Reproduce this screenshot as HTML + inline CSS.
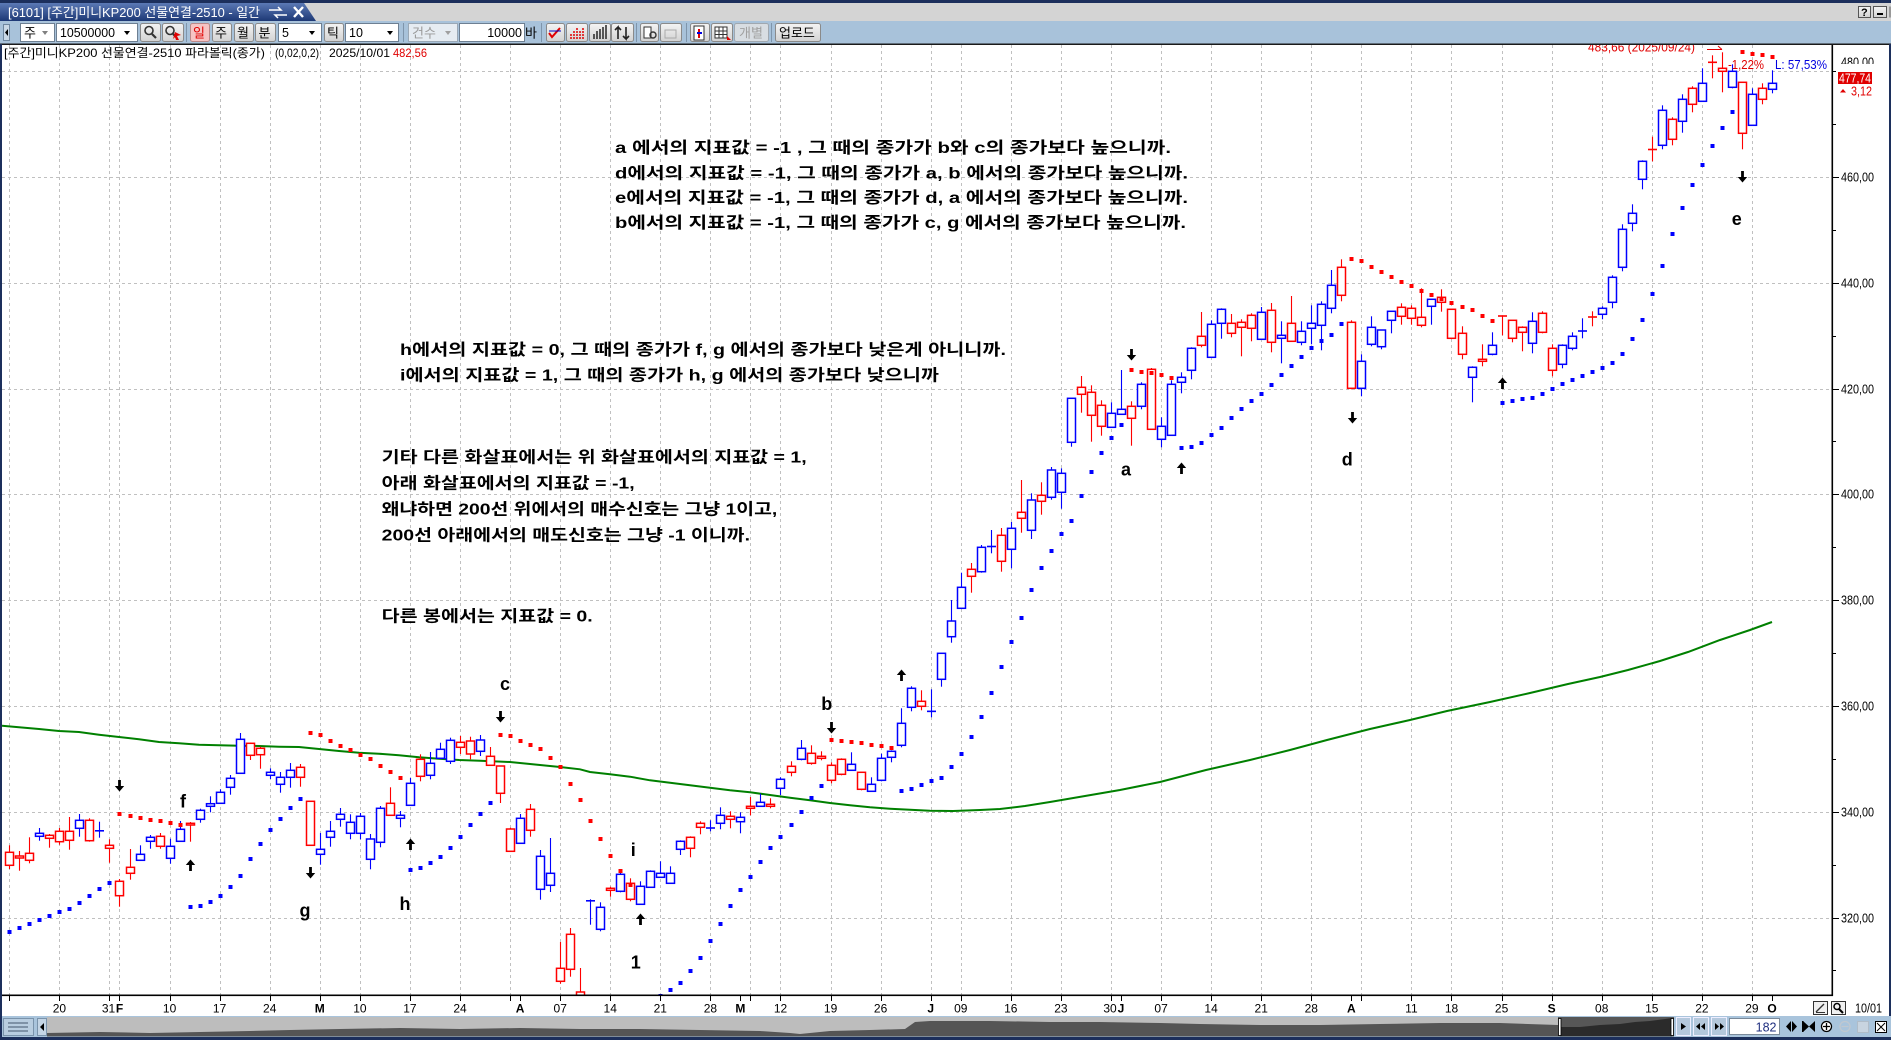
<!DOCTYPE html>
<html><head><meta charset="utf-8"><title>chart</title>
<style>
html,body{margin:0;padding:0;background:#fff;overflow:hidden;width:1891px;height:1040px}
svg{display:block}
text{font-family:"Liberation Sans","Noto Sans CJK KR",sans-serif}
.gd{stroke:#c0c0c0;stroke-width:1;stroke-dasharray:3 3;fill:none}
.ax{font-size:13px;fill:#000}
.dt{font-size:12px;fill:#000}
.mb{font-size:12px;fill:#000;font-weight:bold}
.lt{font-size:18px;font-weight:bold;fill:#000}
.pp{font-size:16px;font-weight:bold;fill:#000}
</style></head><body>
<svg id="svg" width="1891" height="1040" viewBox="0 0 1891 1040" xmlns="http://www.w3.org/2000/svg">
<defs>
<clipPath id="pc"><rect x="2" y="45" width="1830" height="950"/></clipPath>
<path id="ad" d="M-1.4,-6h2.8v6h3.3l-4.7,5.5l-4.7,-5.5h3.3z"/>
<path id="au" d="M-1.4,6h2.8v-6h3.3l-4.7,-5.5l-4.7,5.5h3.3z"/>
<linearGradient id="tabg" x1="0" y1="0" x2="0" y2="1"><stop offset="0" stop-color="#5b79b5"/><stop offset="1" stop-color="#1d3875"/></linearGradient>
<linearGradient id="btng" x1="0" y1="0" x2="0" y2="1"><stop offset="0" stop-color="#f4f4f4"/><stop offset="1" stop-color="#d2d2d2"/></linearGradient>
</defs>
<rect width="1891" height="1040" fill="#fff"/>

<g clip-path="url(#pc)">
 <g id="grid"></g>
 <polyline fill="none" stroke="#008000" stroke-width="2" points="2,725.7 19,727.3 39,729 59,731 79,732 99,734.7 119,737 139,739.3 159,742 179,743.3 199,744.7 219,745.3 239,745.7 259,746 279,746.7 299,747 319,749 339,751 359,752.7 379,753.7 399,755.3 419,757.3 439,758.7 459,760 480,760.7 510,762 530,764 550,766 560,767 580,769.3 590,772 610,774.3 630,776.7 650,780.3 670,782.7 690,785.3 710,787.7 730,790.3 750,792.3 770,795 790,797.7 810,800.3 830,803 850,805.3 870,807.3 890,808.7 910,809.7 930,810.7 953,811 980,810 1000,809 1025,806 1050,802 1085,796 1120,790 1160,782 1206,770 1250,760 1290,750 1327,740 1370,729 1410,720 1447,711 1490,702 1530,693 1568,684 1600,677 1628,670 1660,661 1688,652 1720,640 1750,630 1772,622"/>
 <g id="cnd"></g>
 <g id="sar"></g>
</g>

<!-- top-right chart annotations (upper part covered by toolbar) -->
<text x="1588" y="51.5" font-size="13" fill="#e00000" textLength="107" lengthAdjust="spacingAndGlyphs">483,66 (2025/09/24)</text>
<line x1="1707" y1="49.5" x2="1722" y2="49.5" stroke="#e00000" stroke-width="1"/>
<line x1="1718" y1="46" x2="1722" y2="49.5" stroke="#e00000" stroke-width="1"/>
<text x="1728" y="69" font-size="13" fill="#e00000" textLength="36" lengthAdjust="spacingAndGlyphs">-1,22%</text>
<text x="1775" y="69" font-size="13" fill="#0000e0" textLength="52" lengthAdjust="spacingAndGlyphs">L: 57,53%</text>

<!-- arrows -->
<g fill="#000">
<use href="#ad" x="119.5" y="786"/><use href="#ad" x="310.5" y="873"/><use href="#ad" x="500.5" y="717"/><use href="#ad" x="831.5" y="728"/><use href="#ad" x="1131.5" y="355"/><use href="#ad" x="1352.5" y="418"/><use href="#ad" x="1742.5" y="177"/>
<use href="#au" x="190.5" y="865"/><use href="#au" x="410.5" y="844"/><use href="#au" x="640.5" y="919"/><use href="#au" x="901.5" y="675"/><use href="#au" x="1181.5" y="468"/><use href="#au" x="1502.5" y="383"/>
</g>

<!-- letters -->
<g class="lt" text-anchor="middle">
<text x="183" y="807.7">f</text>
<text x="305" y="916.7">g</text>
<text x="405" y="910">h</text>
<text x="505" y="690">c</text>
<text x="826.7" y="710">b</text>
<text x="633.3" y="856">i</text>
<text x="635.7" y="968.3">1</text>
<text x="1126" y="475.7">a</text>
<text x="1347.3" y="465.7">d</text>
<text x="1736.7" y="225">e</text>
</g>

<!-- paragraphs -->
<g class="pp">
<text x="615" y="153" textLength="556" lengthAdjust="spacingAndGlyphs">a 에서의 지표값 = -1 , 그 때의 종가가 b와 c의 종가보다 높으니까.</text>
<text x="615" y="178.5" textLength="573" lengthAdjust="spacingAndGlyphs">d에서의 지표값 = -1, 그 때의 종가가 a, b 에서의 종가보다 높으니까.</text>
<text x="615" y="203" textLength="573" lengthAdjust="spacingAndGlyphs">e에서의 지표값 = -1, 그 때의 종가가 d, a 에서의 종가보다 높으니까.</text>
<text x="615" y="228" textLength="571" lengthAdjust="spacingAndGlyphs">b에서의 지표값 = -1, 그 때의 종가가 c, g 에서의 종가보다 높으니까.</text>

<text x="400" y="355" textLength="606" lengthAdjust="spacingAndGlyphs">h에서의 지표값 = 0, 그 때의 종가가 f, g 에서의 종가보다 낮은게 아니니까.</text>
<text x="400" y="380.5" textLength="539" lengthAdjust="spacingAndGlyphs">i에서의 지표값 = 1, 그 때의 종가가 h, g 에서의 종가보다 낮으니까</text>

<text x="381.7" y="462.7" textLength="425" lengthAdjust="spacingAndGlyphs">기타 다른 화살표에서는 위 화살표에서의 지표값 = 1,</text>
<text x="381.7" y="488.7" textLength="253" lengthAdjust="spacingAndGlyphs">아래 화살표에서의 지표값 = -1,</text>
<text x="381.7" y="514.7" textLength="395.6" lengthAdjust="spacingAndGlyphs">왜냐하면 200선 위에서의 매수신호는 그냥 1이고,</text>
<text x="381.7" y="540.7" textLength="368.3" lengthAdjust="spacingAndGlyphs">200선 아래에서의 매도신호는 그냥 -1 이니까.</text>

<text x="381.7" y="621.5" textLength="211" lengthAdjust="spacingAndGlyphs">다른 봉에서는 지표값 = 0.</text>
</g>

<!-- axes -->
<rect x="1831.5" y="44" width="1.6" height="952" fill="#000"/>
<rect x="0" y="994.5" width="1833" height="1.6" fill="#000"/>
<g stroke="#000" stroke-width="1">
<line x1="1832" y1="71.5" x2="1839" y2="71.5"/><line x1="1832" y1="177.5" x2="1839" y2="177.5"/><line x1="1832" y1="283.5" x2="1839" y2="283.5"/><line x1="1832" y1="389.5" x2="1839" y2="389.5"/><line x1="1832" y1="494.5" x2="1839" y2="494.5"/><line x1="1832" y1="600.5" x2="1839" y2="600.5"/><line x1="1832" y1="706.5" x2="1839" y2="706.5"/><line x1="1832" y1="812.5" x2="1839" y2="812.5"/><line x1="1832" y1="918.5" x2="1839" y2="918.5"/>
<line x1="1832" y1="124.5" x2="1836" y2="124.5"/><line x1="1832" y1="230.5" x2="1836" y2="230.5"/><line x1="1832" y1="336.5" x2="1836" y2="336.5"/><line x1="1832" y1="441.5" x2="1836" y2="441.5"/><line x1="1832" y1="547.5" x2="1836" y2="547.5"/><line x1="1832" y1="653.5" x2="1836" y2="653.5"/><line x1="1832" y1="759.5" x2="1836" y2="759.5"/><line x1="1832" y1="865.5" x2="1836" y2="865.5"/><line x1="1832" y1="970.5" x2="1836" y2="970.5"/>
</g>
<g id="xt"></g>
<g class="ax">
<text x="1841" y="66.5" textLength="33" lengthAdjust="spacingAndGlyphs">480,00</text>
</g>
<rect x="1836" y="64" width="50" height="8" fill="#fff"/>
<g class="ax">
<text x="1841" y="181.3" textLength="33" lengthAdjust="spacingAndGlyphs">460,00</text>
<text x="1841" y="287.3" textLength="33" lengthAdjust="spacingAndGlyphs">440,00</text>
<text x="1841" y="393.3" textLength="33" lengthAdjust="spacingAndGlyphs">420,00</text>
<text x="1841" y="498.7" textLength="33" lengthAdjust="spacingAndGlyphs">400,00</text>
<text x="1841" y="604.5" textLength="33" lengthAdjust="spacingAndGlyphs">380,00</text>
<text x="1841" y="710.5" textLength="33" lengthAdjust="spacingAndGlyphs">360,00</text>
<text x="1841" y="816.5" textLength="33" lengthAdjust="spacingAndGlyphs">340,00</text>
<text x="1841" y="922.5" textLength="33" lengthAdjust="spacingAndGlyphs">320,00</text>
</g>
<rect x="1838" y="72" width="34" height="12" fill="#e00000"/>
<text x="1839" y="82.5" font-size="12.5" fill="#fff" textLength="32" lengthAdjust="spacingAndGlyphs">477,74</text>
<polygon points="1840,92.5 1846,92.5 1843,89" fill="#e00000"/>
<text x="1851" y="95.3" font-size="13" fill="#e00000" textLength="21" lengthAdjust="spacingAndGlyphs">3,12</text>

<!-- date labels -->
<g class="dt" text-anchor="middle">
<text x="59.4" y="1012.5">20</text>
<text x="108.5" y="1012.5">31</text>
<text x="169.6" y="1012.5">10</text>
<text x="219.6" y="1012.5">17</text>
<text x="269.7" y="1012.5">24</text>
<text x="359.9" y="1012.5">10</text>
<text x="409.9" y="1012.5">17</text>
<text x="460" y="1012.5">24</text>
<text x="560.2" y="1012.5">07</text>
<text x="610.2" y="1012.5">14</text>
<text x="660.3" y="1012.5">21</text>
<text x="710.4" y="1012.5">28</text>
<text x="780.5" y="1012.5">12</text>
<text x="830.6" y="1012.5">19</text>
<text x="880.6" y="1012.5">26</text>
<text x="960.8" y="1012.5">09</text>
<text x="1010.8" y="1012.5">16</text>
<text x="1060.9" y="1012.5">23</text>
<text x="1110" y="1012.5">30</text>
<text x="1161.1" y="1012.5">07</text>
<text x="1211.1" y="1012.5">14</text>
<text x="1261.2" y="1012.5">21</text>
<text x="1311.3" y="1012.5">28</text>
<text x="1411.4" y="1012.5">11</text>
<text x="1451.5" y="1012.5">18</text>
<text x="1501.6" y="1012.5">25</text>
<text x="1601.7" y="1012.5">08</text>
<text x="1651.8" y="1012.5">15</text>
<text x="1701.9" y="1012.5">22</text>
<text x="1751.9" y="1012.5">29</text>
</g>
<g class="mb" text-anchor="middle">
<text x="119.5" y="1012.5">F</text>
<text x="319.8" y="1012.5">M</text>
<text x="520.1" y="1012.5">A</text>
<text x="740.4" y="1012.5">M</text>
<text x="930.7" y="1012.5">J</text>
<text x="1121" y="1012.5">J</text>
<text x="1351.3" y="1012.5">A</text>
<text x="1551.6" y="1012.5">S</text>
<text x="1772" y="1012.5">O</text>
</g>
<!-- bottom-right small buttons -->
<rect x="1813.5" y="1001.5" width="14" height="13" fill="#f0f0f0" stroke="#333"/>
<line x1="1816" y1="1012" x2="1824" y2="1004" stroke="#333" stroke-width="1.3"/>
<line x1="1816" y1="1012.5" x2="1825" y2="1012.5" stroke="#333"/>
<rect x="1831.5" y="1001.5" width="14" height="13" fill="#f0f0f0" stroke="#333"/>
<circle cx="1837" cy="1006.5" r="3" fill="none" stroke="#000" stroke-width="1.5"/>
<line x1="1839" y1="1009" x2="1843" y2="1013" stroke="#000" stroke-width="2"/>
<text x="1855" y="1012.5" font-size="12.5" fill="#000" textLength="27" lengthAdjust="spacingAndGlyphs">10/01</text>

<!-- info line -->
<text x="4" y="57" font-size="12" fill="#000" textLength="261" lengthAdjust="spacingAndGlyphs">[주간]미니KP200 선물연결-2510 파라볼릭(종가)</text>
<text x="275" y="57" font-size="12" fill="#000" textLength="44" lengthAdjust="spacingAndGlyphs">(0,02,0,2)</text>
<text x="329" y="57" font-size="12" fill="#000" textLength="61" lengthAdjust="spacingAndGlyphs">2025/10/01</text>
<text x="393" y="57" font-size="12" fill="#e00000" textLength="34" lengthAdjust="spacingAndGlyphs">482,56</text>

<!-- window header -->
<rect x="0" y="0" width="1891" height="21" fill="#d4d4d4"/>
<rect x="0" y="0" width="1891" height="3" fill="#1c2f5c"/>
<polygon points="0,3 304,3 316,21 0,21" fill="url(#tabg)"/>
<text x="8" y="17" font-size="13" fill="#fff" textLength="252" lengthAdjust="spacingAndGlyphs">[6101] [주간]미니KP200 선물연결-2510 - 일간</text>
<path d="M269,10 h12 l-3,-3 M287,15 h-12 l3,3" stroke="#fff" stroke-width="1.5" fill="none"/>
<path d="M294,7 l9,10 M303,7 l-9,10" stroke="#fff" stroke-width="2.4"/>
<rect x="1858.5" y="6.5" width="12" height="11" fill="url(#btng)" stroke="#555"/>
<text x="1861" y="16" font-size="11" font-weight="bold" fill="#000">?</text>
<rect x="1873.5" y="6.5" width="13" height="11" fill="url(#btng)" stroke="#555"/>
<rect x="1877" y="13" width="6" height="2" fill="#000"/>
<rect x="1889" y="6.5" width="2" height="11" fill="#999"/>

<!-- toolbar -->
<rect x="0" y="21" width="1891" height="23" fill="#a8c2da"/>
<rect x="0" y="43.5" width="1891" height="1.5" fill="#1a1a1a"/>
<rect x="3.5" y="24.5" width="6" height="16" fill="#c9d8e6" stroke="#6f879f"/>
<polygon points="8,29 5,32.5 8,36" fill="#000"/>
<rect x="20.5" y="23.5" width="34" height="18" fill="#fff" stroke="#6d7f92"/>
<text x="24" y="37.5" font-size="13" fill="#000">주</text>
<polygon points="42,31 48,31 45,35" fill="#808080"/>
<rect x="56.5" y="23.5" width="81" height="18" fill="#fff" stroke="#6d7f92"/>
<text x="60" y="37" font-size="12.5" fill="#000" textLength="55" lengthAdjust="spacingAndGlyphs">10500000</text>
<polygon points="124,31 130,31 127,35" fill="#000"/>
<rect x="140.5" y="23.5" width="20" height="18" rx="2" fill="url(#btng)" stroke="#8a8a8a"/>
<circle cx="149" cy="30.5" r="4" fill="none" stroke="#333" stroke-width="1.6"/>
<line x1="152" y1="34" x2="156" y2="38" stroke="#333" stroke-width="2.2"/>
<rect x="162.5" y="23.5" width="21" height="18" rx="2" fill="url(#btng)" stroke="#8a8a8a"/>
<circle cx="170" cy="30.5" r="4" fill="none" stroke="#333" stroke-width="1.6"/>
<line x1="173" y1="34" x2="176" y2="37" stroke="#333" stroke-width="2"/>
<polygon points="175,32 181,35 177,36 179,40 176,40 175,37 173,39" fill="#e00000"/>
<line x1="186.5" y1="23" x2="186.5" y2="42" stroke="#7f95ab"/>
<rect x="190.5" y="23.5" width="19" height="18" rx="2" fill="#f6c4c4" stroke="#b88"/>
<text x="193" y="37.5" font-size="13" fill="#e00000">일</text>
<rect x="212.5" y="23.5" width="19" height="18" rx="2" fill="url(#btng)" stroke="#8a8a8a"/>
<text x="215" y="37.5" font-size="13" fill="#000">주</text>
<rect x="234.5" y="23.5" width="19" height="18" rx="2" fill="url(#btng)" stroke="#8a8a8a"/>
<text x="237" y="37.5" font-size="13" fill="#000">월</text>
<rect x="255.5" y="23.5" width="20" height="18" rx="2" fill="url(#btng)" stroke="#8a8a8a"/>
<text x="258.5" y="37.5" font-size="13" fill="#000">분</text>
<rect x="278.5" y="23.5" width="43" height="18" fill="#fff" stroke="#6d7f92"/>
<text x="282" y="37" font-size="12.5" fill="#000">5</text>
<polygon points="309,31 315,31 312,35" fill="#000"/>
<rect x="324.5" y="23.5" width="19" height="18" rx="2" fill="url(#btng)" stroke="#8a8a8a"/>
<text x="327" y="37.5" font-size="13" fill="#000">틱</text>
<rect x="345.5" y="23.5" width="53" height="18" fill="#fff" stroke="#6d7f92"/>
<text x="349" y="37" font-size="12.5" fill="#000">10</text>
<polygon points="387,31 393,31 390,35" fill="#000"/>
<line x1="403.5" y1="23" x2="403.5" y2="42" stroke="#7f95ab"/>
<rect x="408.5" y="23.5" width="49" height="18" fill="#e6ecf2" stroke="#9aa8b6"/>
<text x="412" y="37.5" font-size="13" fill="#9a9a9a">건수</text>
<polygon points="445,31 451,31 448,35" fill="#a0a0a0"/>
<rect x="459.5" y="23.5" width="65" height="18" fill="#fff" stroke="#6d7f92"/>
<text x="522" y="37" font-size="12.5" fill="#000" text-anchor="end">10000</text>
<text x="525" y="37.5" font-size="13" fill="#000">바</text>
<line x1="541.5" y1="23" x2="541.5" y2="42" stroke="#7f95ab"/>
<rect x="546.5" y="23.5" width="18" height="18" rx="2" fill="url(#btng)" stroke="#8a8a8a"/>
<path d="M549,33 l3,4 l8,-9" stroke="#e00000" stroke-width="2" fill="none"/>
<line x1="549" y1="31" x2="561" y2="31" stroke="#0000c0" stroke-width="1"/>
<rect x="566.5" y="23.5" width="21" height="18" rx="2" fill="url(#btng)" stroke="#8a8a8a"/>
<path d="M571,39v-6M574,39v-9M577,39v-12M580,39v-8M583,39v-11" stroke="#e00000" stroke-width="1.5" stroke-dasharray="2 1"/>
<rect x="589.5" y="23.5" width="21" height="18" rx="2" fill="url(#btng)" stroke="#8a8a8a"/>
<path d="M594,39v-5M597,39v-8M600,39v-10M603,39v-12M606,39v-14" stroke="#333" stroke-width="1.6"/>
<rect x="611.5" y="23.5" width="22" height="18" rx="2" fill="url(#btng)" stroke="#8a8a8a"/>
<path d="M618,39v-12l-3,3M618,27l3,3M626,27v12l-3,-3M626,39l3,-3" stroke="#222" stroke-width="1.6" fill="none"/>
<line x1="636.5" y1="23" x2="636.5" y2="42" stroke="#7f95ab"/>
<rect x="640.5" y="23.5" width="18" height="18" rx="2" fill="url(#btng)" stroke="#8a8a8a"/>
<path d="M644,27h7v11h-7z" fill="#fff" stroke="#333"/>
<circle cx="653" cy="35" r="3" fill="none" stroke="#333" stroke-width="1.4"/>
<rect x="660.5" y="23.5" width="21" height="18" rx="2" fill="url(#btng)" stroke="#8a8a8a"/>
<path d="M665,30h11v8h-11z" fill="none" stroke="#aaa"/>
<line x1="686.5" y1="23" x2="686.5" y2="42" stroke="#7f95ab"/>
<rect x="690.5" y="23.5" width="19" height="18" rx="2" fill="url(#btng)" stroke="#8a8a8a"/>
<path d="M694,26h10v14h-10z" fill="#fff" stroke="#333"/>
<path d="M699,29v9" stroke="#e00000" stroke-width="2"/><path d="M697,33h5" stroke="#0000e0" stroke-width="2"/>
<rect x="711.5" y="23.5" width="21" height="18" rx="2" fill="url(#btng)" stroke="#8a8a8a"/>
<path d="M715,27h12v11h-12zM715,31h12M715,34.5h12M719,27v11M723,27v11" fill="#fff" stroke="#333"/>
<polygon points="727,36 731,40 727,40" fill="#e00000"/>
<rect x="734.5" y="23.5" width="34" height="18" rx="2" fill="#d8dde2" stroke="#a0a8b0"/>
<text x="739" y="37.5" font-size="13" fill="#a0a0a0">개별</text>
<line x1="771.5" y1="23" x2="771.5" y2="42" stroke="#7f95ab"/>
<rect x="775.5" y="23.5" width="45" height="18" rx="2" fill="url(#btng)" stroke="#8a8a8a"/>
<text x="779" y="37.5" font-size="13" fill="#000">업로드</text>

<!-- bottom scroll bar -->
<rect x="0" y="1016" width="1891" height="24" fill="#a9c4dc"/>
<rect x="3.5" y="1018.5" width="30" height="17" fill="#b8cde0" stroke="#7a93ab"/>
<path d="M8,1023h20M8,1027h20M8,1031h20" stroke="#6a7f94" stroke-width="1.6"/>
<rect x="37.5" y="1018.5" width="9" height="17" fill="#c4d5e5" stroke="#7a93ab"/>
<polygon points="44,1023 40,1027 44,1031" fill="#000"/>
<rect x="47" y="1017" width="1511" height="19.5" fill="#bdbdbd"/>
<polygon fill="#555" points="47,1036.5 47,1033 100,1032 150,1033 200,1032 250,1031 290,1030 340,1029 400,1028 460,1029 520,1028 580,1029 640,1029 700,1030 760,1031 790,1033 800,1034 830,1031 870,1030 905,1029 915,1022 930,1021 990,1021 1050,1022 1100,1022 1160,1023 1200,1024 1260,1025 1320,1025 1380,1024 1440,1023 1500,1023 1558,1025 1558,1036.5"/>
<rect x="1558" y="1017" width="116" height="19.5" fill="#575757"/>
<polygon fill="#2b2b2b" points="1560,1036.5 1560,1027 1580,1027 1600,1025 1620,1024 1635,1022 1650,1021 1665,1019 1672,1018 1672,1036.5"/>
<rect x="1558.5" y="1018.5" width="2.5" height="17" fill="#fff" stroke="#000" stroke-width="0.8"/>
<rect x="1671" y="1018.5" width="2.5" height="17" fill="#fff" stroke="#000" stroke-width="0.8"/>
<rect x="1676.5" y="1017.5" width="14" height="18" fill="#b4c8dc" stroke="#eef"/>
<polygon points="1681,1023 1686,1026.5 1681,1030" fill="#000"/>
<rect x="1693.5" y="1017.5" width="15" height="18" fill="#b4c8dc" stroke="#eef"/>
<polygon points="1700,1023 1696,1026.5 1700,1030" fill="#000"/><polygon points="1705,1023 1701,1026.5 1705,1030" fill="#000"/>
<rect x="1711.5" y="1017.5" width="15" height="18" fill="#b4c8dc" stroke="#eef"/>
<polygon points="1715,1023 1719,1026.5 1715,1030" fill="#000"/><polygon points="1720,1023 1724,1026.5 1720,1030" fill="#000"/>
<rect x="1729.5" y="1018.5" width="50" height="16" fill="#fff" stroke="#7a8a9a"/>
<text x="1776.5" y="1031.5" font-size="12.5" fill="#203080" text-anchor="end">182</text>
<polygon points="1786,1026.5 1791,1021 1791,1032" fill="#000"/><polygon points="1797,1026.5 1792,1021 1792,1032" fill="#000"/>
<polygon points="1803,1021 1809,1026.5 1803,1032" fill="#000"/><polygon points="1815,1021 1809,1026.5 1815,1032" fill="#000"/><rect x="1802" y="1021" width="1.5" height="11" fill="#000"/>
<circle cx="1826.5" cy="1026.5" r="5" fill="#fff" stroke="#000" stroke-width="1.3"/><path d="M1823,1026.5h7M1826.5,1023v7" stroke="#000" stroke-width="1.3"/>
<circle cx="1845" cy="1026.5" r="5" fill="none" stroke="#c0c8d0" stroke-width="1.3"/><path d="M1841.5,1026.5h7" stroke="#c0c8d0" stroke-width="1.3"/>
<rect x="1857.5" y="1021.5" width="11" height="11" fill="#c8d4e0" stroke="#b0bcc8"/>
<rect x="1875.5" y="1021.5" width="11" height="11" fill="#fff" stroke="#000"/><path d="M1877,1023l8,8M1885,1023l-8,8" stroke="#000"/>
<rect x="0" y="1037" width="1891" height="3" fill="#1c2f5c"/>
<rect x="0" y="44" width="2" height="996" fill="#1c2f5c"/>
<rect x="1889" y="44" width="2" height="972" fill="#1c2f5c"/>
</svg>
<script>
(function(){
var C=[[852.3,865.3,845.3,869,1],[856,858,851,870.7,1],[853.3,860.3,837.3,863.3,1],[833.3,836.3,828,840.7,0],[835.3,838.3,834,847.7,1],[831.3,841.7,828,844.7,1],[831.3,840.3,817,849.7,1],[820.3,828.3,814,836.7,0],[820.3,840.7,818.3,841.7,1],[830.3,831.3,821.7,837.7,0],
[845.3,848.3,839.3,862.7,1],[881.3,895.7,879,906.7,1],[867.3,873.3,849,879.7,1],[854.3,860.3,845.3,860.3,0],[837.3,841.3,835,848.7,0],[836.3,846.3,833,848.7,1],[846.3,858.3,838.7,863.7,0],[829.3,841.3,821,841.3,0],[823.3,825,822,841.7,1],[810.3,819.3,808.7,822.7,0],
[803.7,806.3,796.3,812.3,0],[792.3,803.3,789.3,803.3,0],[778.3,787.3,775,794.7,0],[739.3,773.3,733,773.3,0],[743.3,755.3,742.7,760,1],[748.3,754.7,746.7,768.7,1],[772.3,775.3,768.3,779,0],[777.3,784.3,772,792.7,0],[770.3,777.3,763,787.7,0],[767.3,777.3,764,786.7,1],
[801.3,845.3,801.3,845.3,1],[849.3,854.3,833,864.7,0],[831.3,837.3,821,846.7,0],[814.3,819.3,808,826.7,0],[822.3,833.3,814.3,839.3,0],[816.3,833.3,813,839.3,0],[839,859.3,834,869.3,0],[808.3,842.3,806,847.3,0],[803.3,815.3,787.3,815.3,1],[815.3,818.3,811,827.3,0],
[783.3,805.3,778,805.3,0],[759.3,776.3,754.3,781.3,1],[763.3,775.3,752,779.3,0],[749.3,758.3,742.7,758.3,0],[740.3,761.3,737.7,764,0],[742.3,747.3,736,754,1],[741,754,736.7,759.3,1],[740,751.3,735,756,0],[756.3,765.3,747,765.3,1],[766,793.3,766,803,1],
[829,851.3,827.7,851.3,1],[818.3,843.3,814,843.3,0],[809.3,830.3,804,836.7,1],[856.3,889.3,850,899.7,0],[873.3,885.3,838,892,0],[968.3,981.3,942,983.7,1],[934.3,969.3,928,976.7,1],[992,998,968,998,1],[900.3,901.3,899.3,924.7,0],[907.3,929.3,902.3,931.3,0],
[888.3,890.3,886.7,896.7,1],[874.3,891.3,869.3,892.3,0],[883.3,899.3,878.3,901.3,1],[886.3,904.3,881.3,904.3,0],[871.3,887.3,870.3,887.3,0],[873.3,877.3,861.3,877.3,0],[873.3,883.3,866.3,883.3,0],[841.3,849.3,840.3,855,0],[837.3,848.3,836.3,857.3,1],[823.3,827.3,821.3,834.3,1],
[827.3,828.7,820.3,831.3,0],[815.3,823.3,807.3,829.3,0],[816.3,819.3,811.3,828.3,1],[817.3,821.7,812.3,833.3,0],[806.3,808.3,797,815.3,1],[802.3,806.3,793.7,806.3,0],[804.3,806.3,798.3,808.3,1],[779.3,788.3,777.3,795,0],[766.3,772.3,761.3,776.3,1],[748.3,759.3,740,760.3,0],
[753.3,763.3,745.3,764.7,1],[756.3,758.3,751.3,760.3,1],[765.3,780.3,762.3,783.3,1],[759.3,774.3,758.3,775.3,1],[764.3,770.3,752.3,770.3,0],[772.3,789.3,772.3,790.3,1],[784.3,791.3,777.3,791.3,0],[758.3,780.3,753.7,781.3,0],[751.3,757.3,750.3,762.3,0],[723.3,745.3,708.3,747.3,0],
[688.3,707.3,686.3,711.3,0],[701.3,706.3,690.3,710.3,1],[711,711.7,689.3,717.3,0],[653.3,679.3,653.3,686.7,0],[621,636.7,600,642.7,0],[587.3,608.3,572.7,608.3,0],[569.3,576.3,563,592.7,1],[547.3,571.7,545,572.7,0],[546,547,530,553.3,0],[535.3,561.3,528,571.7,1],
[528.3,549.3,522,568.3,0],[512.3,518.3,480,532.7,1],[500,530.3,493.3,539,0],[495.3,501.3,482.3,514.7,1],[470,497.3,467,499.7,0],[473.3,492.3,468.3,508.7,0],[398.3,442.3,398.3,446.7,0],[387.3,394.3,376,412.7,1],[392.3,415.3,385.3,441.7,1],[405.3,426.3,400.3,435.7,1],
[413.3,427.3,402.3,427.3,0],[409.3,414.3,370,414.3,0],[406.3,418.3,401.3,445.7,1],[384.3,406.3,382.3,409.3,0],[369.3,429.3,368,429.3,1],[426.3,439.3,417.3,447.3,0],[384.3,435.3,380.3,435.3,0],[377.3,382.3,372.3,393.3,0],[348.3,370.3,347.3,379.3,0],[336.3,345.3,312,347.3,1],
[324.3,357.3,320.3,357.3,0],[309.3,323.3,308.3,338.7,0],[323.3,333.3,314,337.3,1],[322.3,327.3,319.3,356.3,1],[315.3,328.3,313.3,341.3,1],[312.3,339.3,307,339.3,0],[310.3,342.3,303,352.3,1],[335.3,338.3,321.3,363.3,0],[323.3,341.3,296,341.3,1],[331.3,342.3,321.3,345.3,0],
[323.3,328.3,305.3,344.3,0],[304.3,325.3,301.3,350.3,0],[285.3,308.3,270,313.3,0],[267.3,295.3,259.3,301.3,1],[322.3,388.3,320.3,389.3,1],[361.3,388.3,354.3,396.3,0],[327.3,344.3,316.3,346.3,0],[330,346.7,330,349.3,0],[311.3,320.3,311.3,333.3,0],[307.3,316.3,303.3,324.7,1],
[308.3,318.3,305.3,324.7,1],[317.3,325.3,288.3,327.3,1],[299.3,306.3,299.3,324.7,0],[297.3,302.3,289.3,311.7,1],[309.3,338.3,309.3,338.3,1],[333.3,354.3,326.3,359.3,1],[367.3,377.3,366.3,402.3,0],[359.3,361.3,344.3,366.3,1],[345.3,354.3,332.3,355.3,0],[315.7,316.3,315.7,335.3,1],
[320.3,338.3,320.3,342.3,1],[327.3,332.3,326.3,351.3,1],[321.3,343.3,312.3,353.3,0],[313.3,332.3,311.3,333.3,1],[348.3,370.3,344.3,376.3,1],[345.3,364.3,344.3,368.3,0],[336.3,348.3,332.3,350.3,0],[330.7,331.3,318.3,338.3,0],[316.7,317.3,311.3,326.3,1],[308.3,314.3,306.3,319.3,0],
[277.3,302.3,275.3,308.3,0],[229.3,267.3,224.3,271.3,0],[213.3,223.3,204.3,231.3,0],[161.3,179.3,160.3,189.3,0],[149.3,149.7,136.7,161.3,1],[110.3,145.3,105.3,149.3,0],[119.3,139.3,117.3,145.3,1],[99.3,121.3,94.3,132.7,0],[88.3,104.3,86.3,112.3,1],[83.3,101.3,68.3,101.3,0],
[62.3,62.3,55.3,78.3,1],[68.3,71.3,52.3,92.3,1],[71.3,87.3,64.3,88.3,0],[82.3,133.3,82.3,149.3,1],[94.3,125.3,88.3,125.3,0],[88.3,99.3,83.3,104.3,1],[83.3,89.3,70.3,93.3,0]];
var S=[932,928,924,920,916,912,909,903,896,889,883,
-814,-816,-818,-820,-821,-823,-825,
907,906,902,896,887,876,859,844,830,819,808,799,
-733,-735,-741,-746,-750,-755,-759,-766,-772,-778,
870,868,863,857,848,837,825,814,803,
-735,-736,-741,-745,-749,-758,-767,-784,-800,-821,-839,-856,-871,-885,
1010,1003,996,990,983,971,958,941,924,906,890,877,862,848,837,825,812,798,786,
-740,-741,-742,-743,-745,-746,-748,
791,789,785,781,778,767,754,737,717,693,667,642,618,590,568,551,534,521,496,472,453,438,425,
-370,-372,-373,-375,-378,
448,447,443,435,428,418,409,401,394,385,375,366,357,348,341,335,324,
-259,-261,-267,-272,-277,-282,-286,-291,-295,-299,-303,-307,-310,-316,-321,
403,401,399,398,394,389,384,380,376,372,368,363,354,339,320,294,266,234,208,185,165,146,128,112,
-52,-54,-55,-57];
function cx(i){return 9.33+10.015*i;}
var G=[0,5,10,11,16,21,26,31,35,40,45,50,55,60,65,70,74,77,82,87,92,95,100,105,110,115,120,125,130,135,140,144,149,154,159,164,169,174];
var T=G.concat([51,73,111,134,176]);
var h='';
G.forEach(function(g){var x=Math.round(cx(g))+0.5;h+='<line class="gd" x1="'+x+'" y1="45" x2="'+x+'" y2="995"/>';});
[71,177,283,389,494,600,706,812,918].forEach(function(y){h+='<line class="gd" x1="2" y1="'+(y+0.5)+'" x2="1832" y2="'+(y+0.5)+'"/>';});
document.getElementById('grid').innerHTML=h;
h='';
C.forEach(function(c,i){
 var x=Math.round(cx(i))+0.5,col=c[4]?'#ff0000':'#0000ff';
 h+='<line x1="'+x+'" y1="'+c[2]+'" x2="'+x+'" y2="'+c[3]+'" stroke="'+col+'" stroke-width="1.1"/>';
 if(c[1]-c[0]<1.6){var y=(c[0]+c[1])/2;h+='<line x1="'+(x-4.5)+'" y1="'+y+'" x2="'+(x+4.5)+'" y2="'+y+'" stroke="'+col+'" stroke-width="1.6"/>';}
 else h+='<rect x="'+(x-4)+'" y="'+c[0]+'" width="8" height="'+(c[1]-c[0])+'" fill="#fff" stroke="'+col+'" stroke-width="1.5"/>';
});
document.getElementById('cnd').innerHTML=h;
h='';
S.forEach(function(v,i){var x=Math.round(cx(i))+0.5,y=Math.abs(v);h+='<rect x="'+(x-2)+'" y="'+(y-2)+'" width="4" height="4" fill="'+(v<0?'#ff0000':'#0000ff')+'"/>';});
document.getElementById('sar').innerHTML=h;
h='';
T.forEach(function(g){var x=Math.round(cx(g))+0.5;h+='<line x1="'+x+'" y1="995" x2="'+x+'" y2="1001" stroke="#000" stroke-width="1"/>';});
document.getElementById('xt').innerHTML=h;
})();
</script>
</body></html>
